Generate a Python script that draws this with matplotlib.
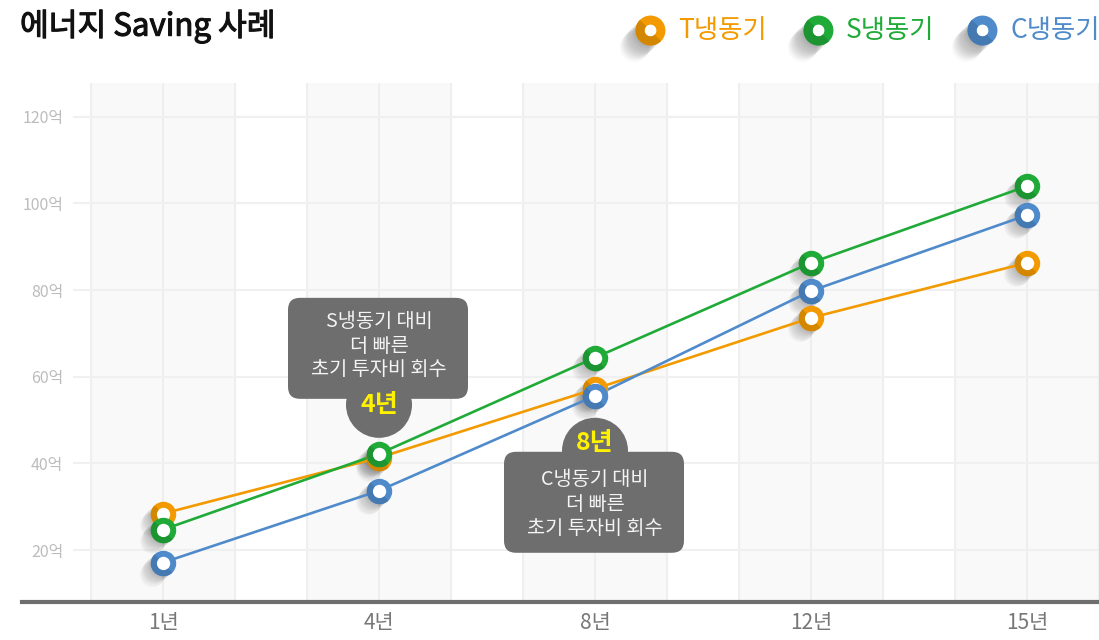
import matplotlib
matplotlib.use('Agg')
import matplotlib.pyplot as plt
import matplotlib.transforms as mtransforms
import matplotlib.patheffects as pe
from matplotlib.patches import FancyBboxPatch, Circle
from matplotlib.lines import Line2D
from matplotlib.path import Path
from matplotlib.colors import to_rgb
import numpy as np

plt.rcParams['font.family'] = ['Noto Sans CJK KR', 'DejaVu Sans']

years = ['1년', '4년', '8년', '12년', '15년']
t_values = [28.4, 41.3, 57.2, 73.6, 86.3]
s_values = [24.7, 42.2, 64.4, 86.3, 104.0]
c_values = [17.1, 33.7, 55.6, 79.8, 97.3]
y_ticks = [20, 40, 60, 80, 100, 120]
y_labels = ['20억', '40억', '60억', '80억', '100억', '120억']

series = [
    ('T냉동기', t_values, '#f29a00'),
    ('S냉동기', s_values, '#20aa38'),
    ('C냉동기', c_values, '#4f8bcb'),
]

callout_s = ('S냉동기 대비\n더 빠른\n초기 투자비 회수', '4년')
callout_c = ('C냉동기 대비\n더 빠른\n초기 투자비 회수', '8년')


def half_ring(inner):
    # lower-left half of an annulus, used as the darker side of the ring markers
    a = np.linspace(np.pi * 0.75, np.pi * 1.75, 41)
    outer = np.column_stack([np.cos(a), np.sin(a)])
    inn = np.column_stack([inner * np.cos(a[::-1]), inner * np.sin(a[::-1])])
    verts = np.vstack([outer, inn, outer[:1]])
    codes = [Path.MOVETO] + [Path.LINETO] * (len(verts) - 2) + [Path.CLOSEPOLY]
    return Path(verts, codes)


def darker(col, f=0.87):
    return tuple(c * f for c in to_rgb(col))


def shadow(ax, x, y, size, steps=10):
    # long soft shadow down-left of each marker
    for k in range(1, steps + 1):
        tr = mtransforms.offset_copy(ax.transData, fig=ax.figure, x=-k * 0.8, y=-k * 0.8, units='points')
        ax.plot(x, y, 'o', ms=size, color='#000000', alpha=0.028, mew=0, transform=tr, zorder=3)


def callout(ax, xi, yv, text, year, above):
    trans = mtransforms.Affine2D() + mtransforms.ScaledTranslation(xi, yv, ax.transData)
    box_col = '#6e6e6e'
    if above:
        box_y0, box_y1, tab_y, year_y, lines_y = 55, 156, 49, 49, [132, 107, 84]
    else:
        box_y0, box_y1, tab_y, year_y, lines_y = -157, -56, -55, -47, [-84, -109, -133]
    box = FancyBboxPatch((-91, box_y0), 180, box_y1 - box_y0,
                         boxstyle='round,pad=0,rounding_size=12',
                         fc=box_col, ec='none', transform=trans, zorder=6, clip_on=False)
    ax.add_patch(box)
    ax.add_patch(Circle((0, tab_y), 33, fc=box_col, ec='none', transform=trans, zorder=6, clip_on=False))
    for line, ly in zip(text.split('\n'), lines_y):
        ax.text(0, ly, line, transform=trans, ha='center', va='center', color='#f4f4f4',
                fontsize=14.2, zorder=7)
    ax.text(0, year_y, year, transform=trans, ha='center', va='center', color='#fff200',
            fontsize=18, fontweight='bold', zorder=7)


fig = plt.figure(figsize=(10.99, 6.40), dpi=100)
ax = fig.add_axes([73 / 1099, 38 / 640, 1 - 73 / 1099, (602 - 83) / 640])

x = np.arange(len(years))
ax.set_xlim(-90 / 216, 936 / 216)
ax.set_ylim(8, 127.8)

# background bands and grid
for i in x:
    ax.axvspan(i - 1 / 3, i + 1 / 3, color='#f9f9f9', lw=0, zorder=0)
for k in range(-1, 14):
    ax.axvline(k / 3, color='#efefef', lw=1.5, zorder=1)
for yt in y_ticks:
    ax.axhline(yt, color='#f0f0f0', lw=1.5, zorder=1)

ring_ms, ring_mew = 14, 4.3
half = half_ring((ring_ms - ring_mew) / (ring_ms + ring_mew))
for name, vals, col in series:
    ax.plot(x, vals, color=col, lw=1.9, zorder=4, solid_capstyle='round')
for name, vals, col in series:
    shadow(ax, x, vals, 18)
    ax.plot(x, vals, 'o', ms=ring_ms, mfc='white', mec=col, mew=ring_mew, zorder=5)
    ax.plot(x, vals, ls='none', marker=half, ms=ring_ms + ring_mew, mfc=darker(col), mew=0, zorder=5)

callout(ax, 1, s_values[1], callout_s[0], callout_s[1], above=True)
callout(ax, 2, c_values[2], callout_c[0], callout_c[1], above=False)

ax.set_yticks(y_ticks)
ax.set_yticklabels(y_labels, color='#bcbcbc', fontsize=11.5)
ax.set_xticks(x)
ax.set_xticklabels(years, color='#777777', fontsize=15)
ax.tick_params(axis='both', length=0)
ax.tick_params(axis='y', pad=7)
ax.tick_params(axis='x', pad=7)
for sp in ax.spines.values():
    sp.set_visible(False)

# baseline
fig.add_artist(Line2D([22 / 1099, 1], [38 / 640, 38 / 640], color='#6e6e6e', lw=3, transform=fig.transFigure))

fig.text(20 / 1099, 1 - 26 / 640, '에너지 Saving 사례', fontsize=22.5, color='#111111',
         ha='left', va='center', path_effects=[pe.withStroke(linewidth=0.8, foreground='#111111')])

# legend
leg_x = [650, 818, 982]
leg_ms, leg_mew = 15, 6.5
leg_half = half_ring((leg_ms - leg_mew) / (leg_ms + leg_mew))
for (name, vals, col), lx in zip(series, leg_x):
    lx_f, ly_f = lx / 1099, 1 - 30 / 640
    for k in range(1, 16):
        fig.add_artist(Line2D([(lx - k * 1.1) / 1099], [1 - (30 + k * 1.1) / 640], marker='o', ms=21,
                              color='black', alpha=0.022, mew=0, transform=fig.transFigure))
    fig.add_artist(Line2D([lx_f], [ly_f], marker='o', ms=leg_ms, mfc='white', mec=col, mew=leg_mew,
                          transform=fig.transFigure))
    fig.add_artist(Line2D([lx_f], [ly_f], marker=leg_half, ms=leg_ms + leg_mew, mfc=darker(col), mew=0,
                          transform=fig.transFigure))
    fig.text((lx + 28) / 1099, 1 - 30 / 640, name, color=col, fontsize=19, ha='left', va='center')

fig.savefig('out.png', dpi=100)
